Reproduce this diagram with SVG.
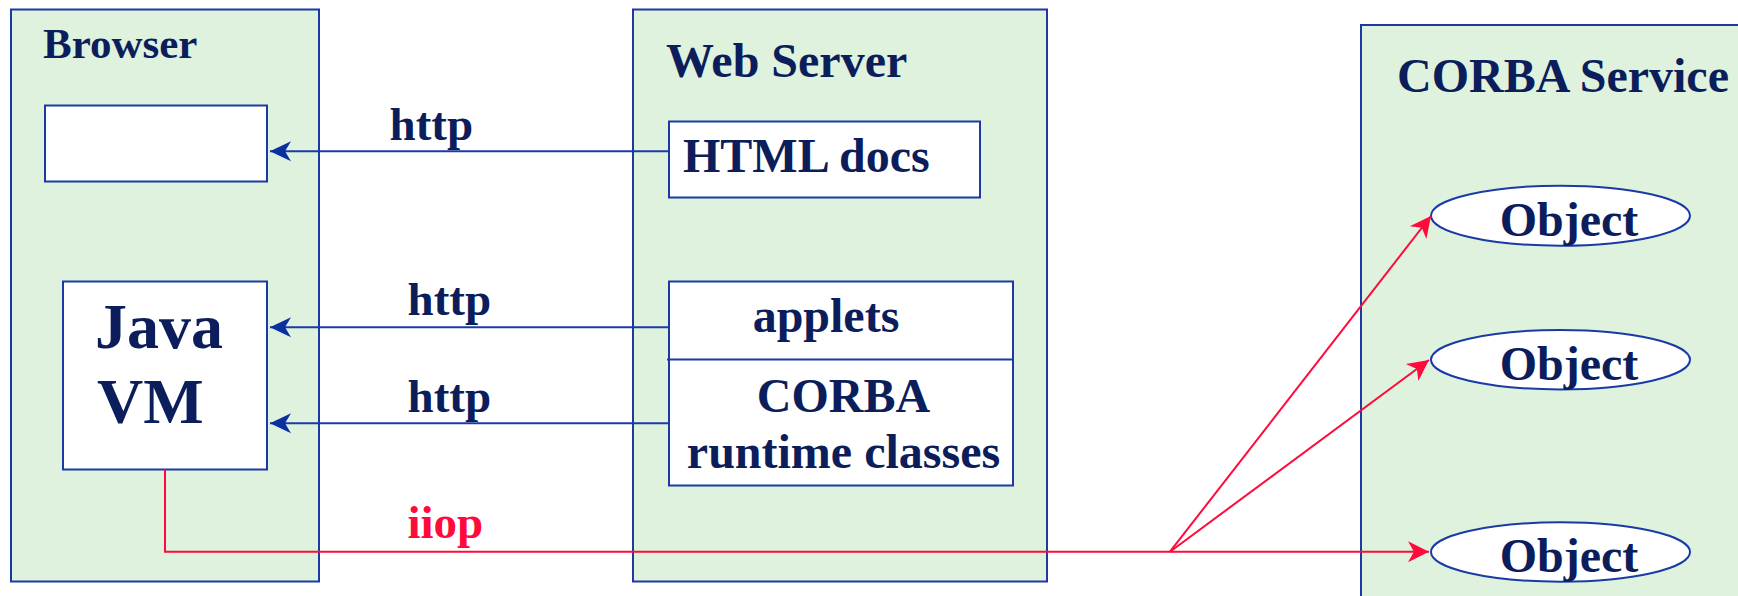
<svg xmlns="http://www.w3.org/2000/svg" width="1738" height="596" viewBox="0 0 1738 596">
<style>
.cont{fill:#DEF2DE;stroke:#1B3AA6;stroke-width:2}
.box{fill:#FFFFFF;stroke:#1B3AA6;stroke-width:2}
.t{font-family:"Liberation Serif","Times New Roman",serif;font-weight:bold;fill:#0B1E5B}
.blue{stroke:#1B3AA6;stroke-width:2;fill:none}
.red{stroke:#FF0A3A;stroke-width:2;fill:none}
</style>
<defs>
<marker id="ab" viewBox="-22 -11 23 22" refX="0" refY="0" markerWidth="23" markerHeight="22" markerUnits="userSpaceOnUse" orient="auto">
<path d="M0,0 L-21,-10 L-15,0 L-21,10 Z" fill="#0A2FA0"/>
</marker>
<marker id="ar" viewBox="-22 -11 23 22" refX="0" refY="0" markerWidth="23" markerHeight="22" markerUnits="userSpaceOnUse" orient="auto">
<path d="M0,0 L-21,-10.5 L-15,0 L-21,10.5 Z" fill="#FF0A3A"/>
</marker>
</defs>

<g id="browser">
<rect class="cont" x="11" y="9.5" width="308" height="572"/>
<text class="t" x="43" y="58" font-size="43">Browser</text>
</g>
<g id="browser-page">
<rect class="box" x="45" y="105.5" width="222" height="76"/>
</g>
<g id="java-vm">
<rect class="box" x="63" y="281.5" width="204" height="188"/>
<text class="t" x="95" y="348" font-size="64">Java</text>
<text class="t" x="97" y="423" font-size="64">VM</text>
</g>

<g id="web-server">
<rect class="cont" x="633" y="9.5" width="414" height="572"/>
<text class="t" x="666" y="76.5" font-size="48">Web Server</text>
</g>
<g id="html-docs">
<rect class="box" x="669" y="121.5" width="311" height="76"/>
<text class="t" x="683" y="172" font-size="48">HTML docs</text>
</g>
<g id="applets-corba">
<rect class="box" x="669" y="281.5" width="344" height="204"/>
<line class="blue" x1="667" y1="359.5" x2="1013" y2="359.5"/>
<text class="t" x="826" y="331.5" font-size="48" text-anchor="middle">applets</text>
<text class="t" x="843.5" y="411.5" font-size="48" text-anchor="middle">CORBA</text>
<text class="t" x="843.5" y="468" font-size="48" text-anchor="middle">runtime classes</text>
</g>

<g id="corba-service">
<rect class="cont" x="1361" y="25" width="400" height="600"/>
<text class="t" x="1397" y="91.5" font-size="48">CORBA Service</text>
</g>
<g id="object-1">
<ellipse class="box" cx="1560.5" cy="215.7" rx="129.5" ry="30"/>
<text class="t" x="1569" y="235.5" font-size="48" text-anchor="middle">Object</text>
</g>
<g id="object-2">
<ellipse class="box" cx="1560.5" cy="359.7" rx="129.5" ry="29.7"/>
<text class="t" x="1569" y="379.5" font-size="48" text-anchor="middle">Object</text>
</g>
<g id="object-3">
<ellipse class="box" cx="1560.5" cy="552" rx="129.5" ry="29.7"/>
<text class="t" x="1569" y="571.5" font-size="48" text-anchor="middle">Object</text>
</g>

<g id="connectors">
<line class="blue" x1="669" y1="151.3" x2="270" y2="151.3" marker-end="url(#ab)"/>
<line class="blue" x1="669" y1="327.3" x2="270" y2="327.3" marker-end="url(#ab)"/>
<line class="blue" x1="669" y1="423.3" x2="270" y2="423.3" marker-end="url(#ab)"/>
<text class="t" x="389.5" y="140" font-size="47">http</text>
<text class="t" x="407.5" y="315" font-size="47">http</text>
<text class="t" x="407.5" y="411.5" font-size="47">http</text>
<path class="red" d="M165,469.5 V551.7 H1429" marker-end="url(#ar)"/>
<path class="red" d="M1170,551.7 L1431,216" marker-end="url(#ar)"/>
<path class="red" d="M1170,551.7 L1429,360" marker-end="url(#ar)"/>
<text x="407.5" y="538" font-size="47" font-family="'Liberation Serif','Times New Roman',serif" font-weight="bold" fill="#FF0A3A">iiop</text>
</g>
</svg>
